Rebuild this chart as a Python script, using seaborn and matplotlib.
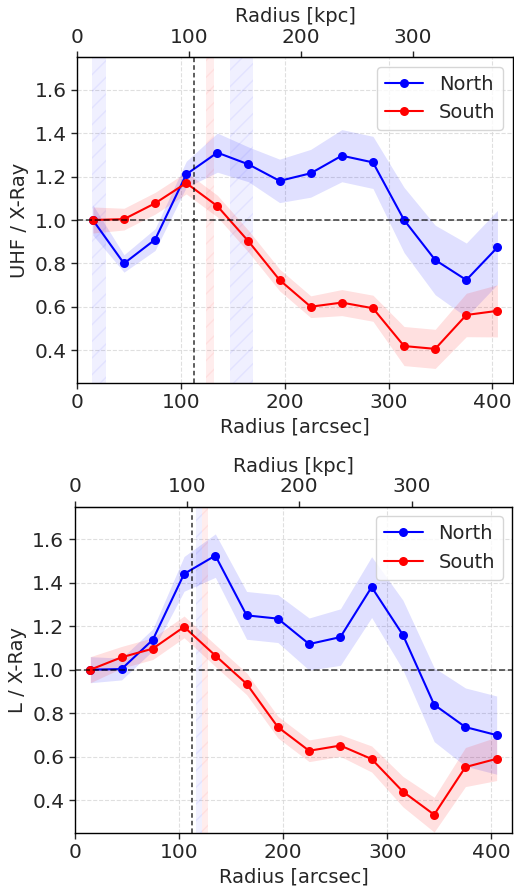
import numpy as np
import pandas as pd
import matplotlib
matplotlib.use("Agg")
import matplotlib.pyplot as plt
import seaborn as sns

radius = [15, 45, 75, 105, 135, 165, 195, 225, 255, 285, 315, 345, 375, 405]

uhf_north = [1.00, 0.80, 0.91, 1.21, 1.31, 1.256, 1.18, 1.215, 1.296, 1.265, 1.00, 0.816, 0.724, 0.874]
uhf_north_err = [0.07, 0.04, 0.05, 0.06, 0.09, 0.08, 0.10, 0.11, 0.12, 0.12, 0.15, 0.16, 0.17, 0.17]
uhf_south = [1.00, 1.004, 1.077, 1.17, 1.064, 0.902, 0.724, 0.601, 0.62, 0.594, 0.42, 0.407, 0.563, 0.582]
uhf_south_err = [0.06, 0.05, 0.05, 0.05, 0.05, 0.05, 0.05, 0.05, 0.06, 0.06, 0.09, 0.09, 0.10, 0.12]

l_north = [1.00, 1.003, 1.138, 1.441, 1.525, 1.25, 1.235, 1.118, 1.15, 1.38, 1.16, 0.839, 0.736, 0.699]
l_north_err = [0.06, 0.05, 0.05, 0.08, 0.10, 0.11, 0.11, 0.12, 0.13, 0.14, 0.16, 0.17, 0.18, 0.18]
l_south = [1.00, 1.057, 1.097, 1.197, 1.065, 0.935, 0.736, 0.627, 0.651, 0.589, 0.439, 0.333, 0.552, 0.59]
l_south_err = [0.06, 0.05, 0.05, 0.05, 0.05, 0.05, 0.05, 0.05, 0.05, 0.06, 0.07, 0.08, 0.09, 0.10]

# shaded regions (arcsec)
uhf_north_bands = [(14, 28), (147, 169)]
uhf_south_bands = [(124, 132)]
l_north_bands = [(116, 122)]
l_south_bands = [(122, 128)]
vline_x = 112.5
kpc_per_arcsec = 0.928

sns.set_style("white")
plt.rcParams['font.family'] = ['DejaVu Sans']

fig = plt.figure(figsize=(5.14, 8.89), dpi=100)
W, H = 514, 889

def make_axes(l, r, t, b):
    return fig.add_axes([l / W, 1 - b / H, (r - l) / W, (b - t) / H])

ax1 = make_axes(77.3, 513, 57, 383)
ax2 = make_axes(74.7, 512.3, 506.7, 832.7)

panels = [
    (ax1, "UHF / X-Ray", uhf_north, uhf_north_err, uhf_south, uhf_south_err, uhf_north_bands, uhf_south_bands),
    (ax2, "L / X-Ray", l_north, l_north_err, l_south, l_south_err, l_north_bands, l_south_bands),
]

for ax, ylab, n, ne, s, se, nb, sb in panels:
    df = pd.DataFrame({
        "Radius": radius * 2,
        "ratio": n + s,
        "Region": ["North"] * len(radius) + ["South"] * len(radius),
    })
    for lo, hi in nb:
        ax.axvspan(lo, hi, facecolor=(0, 0, 1, 0.06), edgecolor=(0.5, 0.5, 1, 0.12), hatch='//', linewidth=0)
    for lo, hi in sb:
        ax.axvspan(lo, hi, facecolor=(1, 0, 0, 0.07), edgecolor=(1, 0.5, 0.5, 0.12), hatch='//', linewidth=0)
    r = np.array(radius)
    ax.fill_between(r, np.array(n) - np.array(ne), np.array(n) + np.array(ne), color='blue', alpha=0.12, linewidth=0)
    ax.fill_between(r, np.array(s) - np.array(se), np.array(s) + np.array(se), color='red', alpha=0.12, linewidth=0)
    sns.lineplot(data=df, x="Radius", y="ratio", hue="Region", palette={"North": "blue", "South": "red"},
                 marker='o', markersize=6.5, markeredgewidth=0, linewidth=1.5, ax=ax)
    ax.axhline(1.0, color='black', linestyle='--', linewidth=1.2, alpha=0.7)
    ax.axvline(vline_x, color='black', linestyle=(0, (3, 2)), linewidth=1.1, alpha=0.8)
    ax.set_xlim(0, 420)
    ax.set_ylim(0.25, 1.75)
    ax.set_xticks([0, 100, 200, 300, 400])
    ax.set_yticks([0.4, 0.6, 0.8, 1.0, 1.2, 1.4, 1.6])
    ax.grid(True, linestyle='--', color='#d8d8d8', alpha=0.8, linewidth=0.8)
    ax.set_xlabel("Radius [arcsec]", fontsize=14)
    ax.set_ylabel(ylab, fontsize=14, labelpad=4)
    ax.tick_params(axis='both', labelsize=14.5, direction='out', length=4, width=1, bottom=True, left=True)
    for sp in ax.spines.values():
        sp.set_color('black')
        sp.set_linewidth(1.0)
    leg = ax.legend(loc='upper right', fontsize=14, frameon=True, fancybox=True, handlelength=2.0)
    leg.set_title(None)
    sec = ax.secondary_xaxis('top', functions=(lambda x: x * kpc_per_arcsec, lambda k: k / kpc_per_arcsec))
    sec.set_xticks([0, 100, 200, 300])
    sec.set_xlabel("Radius [kpc]", fontsize=14)
    sec.tick_params(labelsize=14.5, direction='out', length=4, width=1)

fig.savefig("out.png", dpi=100)
